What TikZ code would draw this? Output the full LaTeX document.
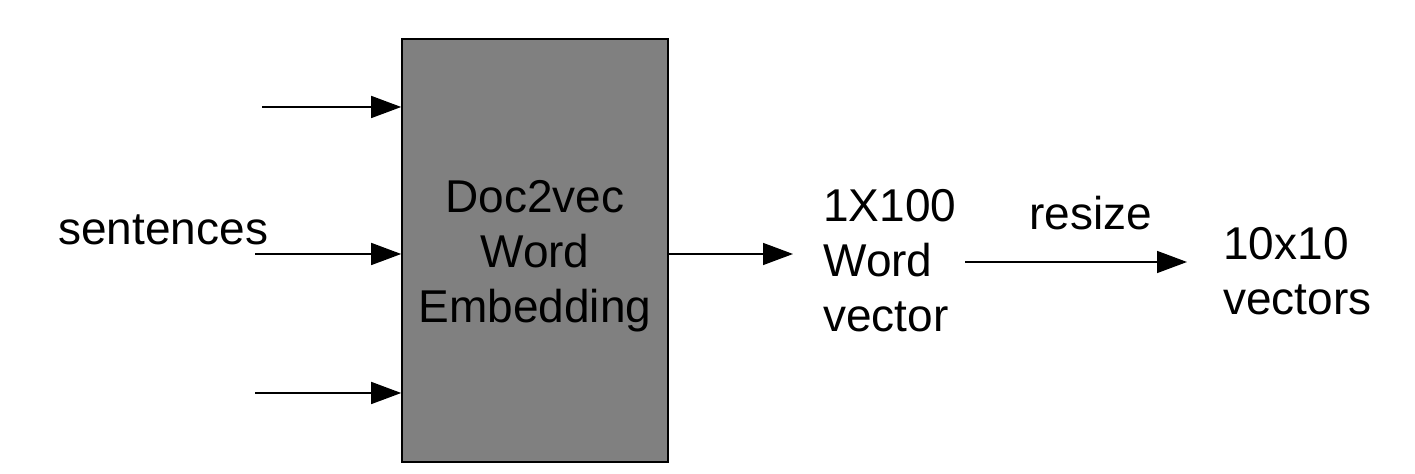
\documentclass[tikz,border=0pt]{standalone}
\usepackage{fontspec}
\setmainfont{Liberation Sans}
\usepackage{tikz}
\usetikzlibrary{arrows.meta,positioning,calc}
\definecolor{boxgray}{HTML}{808080}

\begin{document}
\begin{tikzpicture}[x=0.5pt,y=-0.5pt,
  lbl/.style={inner sep=0pt,align=left,font=\fontsize{23}{27.5}\selectfont},
  emb/.style={draw=black,fill=boxgray,line width=0.8pt,minimum width=133pt,
              minimum height=211.5pt,inner sep=0pt},
  arr/.style={-{Triangle[length=15pt,width=11pt]},draw=black,line width=0.75pt}
]
\useasboundingbox (0,0) rectangle (1415,474);
\node[emb] (w2v) at (535,250.5) {};
\node[lbl,align=center,anchor=base] (w2vtxt) at (535,323) {Doc2vec\\Word\\Embedding};
\coordinate (in1) at (262,107);
\coordinate (in2) at (255,254);
\coordinate (in3) at (255,393);
\node[lbl,anchor=base west] (sent) at (58,245) {sentences};
\node[lbl,anchor=base west] (wv) at (823,332) {1X100\\Word\\vector};
\node[lbl,anchor=base west] (vec) at (1223,315) {10x10\\vectors};
\node[lbl,anchor=base] (rsz) at (1091,230) {resize};
\coordinate (rs0) at (965,262);
\coordinate (rs1) at (1187,262);
\draw[arr] (in1) -- (in1 -| w2v.west);
\draw[arr] (in2) -- (in2 -| w2v.west);
\draw[arr] (in3) -- (in3 -| w2v.west);
\draw[arr] (w2v.east |- in2) -- ($(wv.west |- in2)+(-30,0)$);
\draw[arr] (rs0) -- (rs1);
\end{tikzpicture}
\end{document}
